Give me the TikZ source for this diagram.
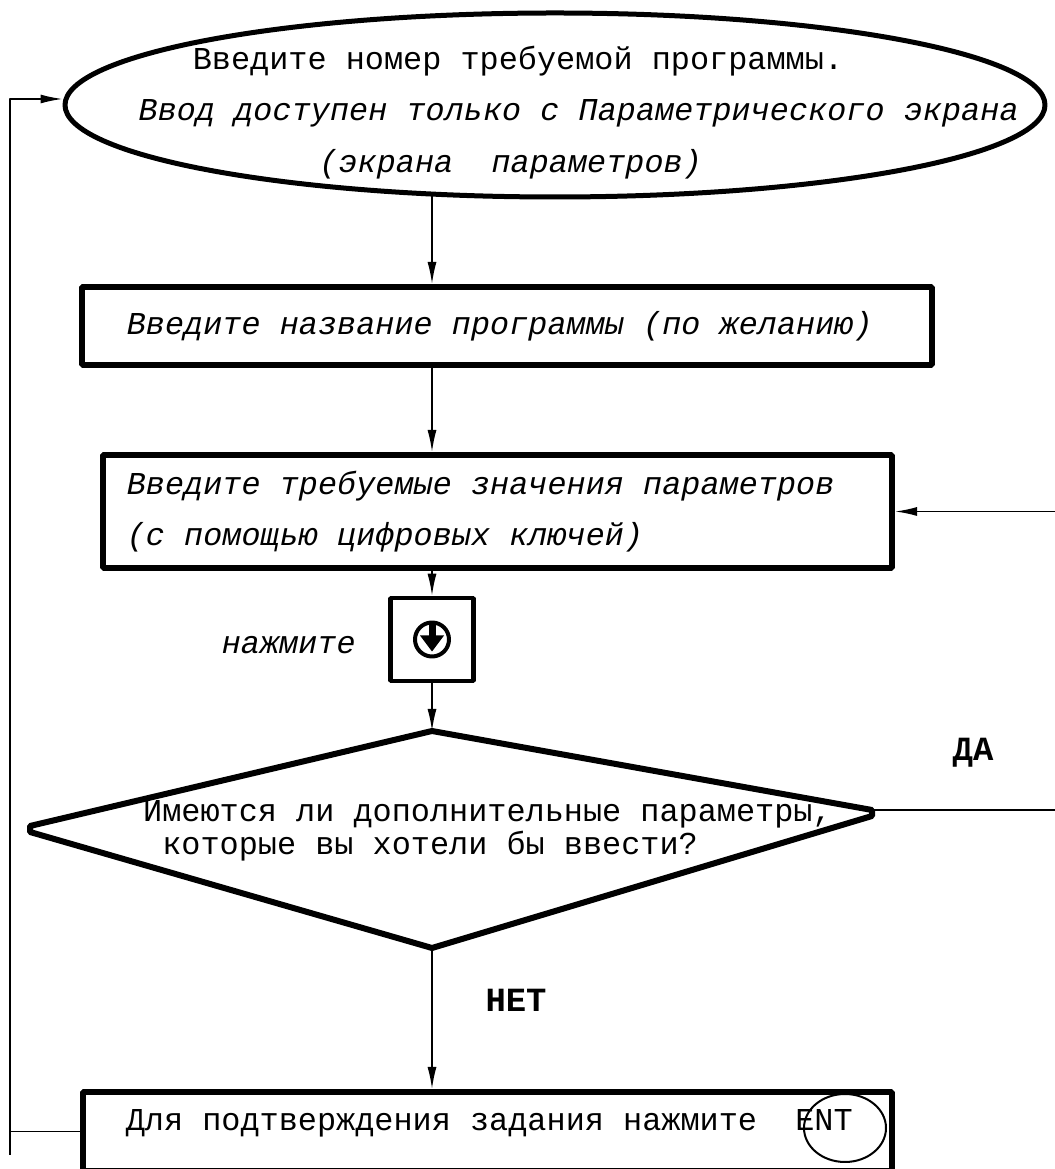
\documentclass[tikz,border=0pt]{standalone}
\usepackage{fontspec}
\setmonofont{Liberation Mono}
\newfontfamily\courit[FakeSlant=0.2]{Liberation Mono}
\frenchspacing
\usetikzlibrary{shapes.geometric,arrows.meta}
\tikzset{
  txt/.style={font=\ttfamily\fontsize{32}{38}\selectfont,inner sep=0pt},
  itxt/.style={font=\courit\fontsize{32}{38}\selectfont,inner sep=0pt},
  bold/.style={font=\ttfamily\bfseries\fontsize{34}{40}\selectfont,inner sep=0pt},
  box/.style={draw,line width=6bp,itxt,align=flush left,execute at begin node={\spaceskip=0pt\xspaceskip=0pt\relax}},
}
\begin{document}
\begin{tikzpicture}[>={Latex[length=22bp,width=9bp]},line join=bevel,line width=1.6bp,]
\useasboundingbox (0bp,0bp) rectangle (1055bp,1169bp);
%%
\node (node_0) at (555bp,1064bp) [ellipse,draw,line width=5bp,minimum width=980bp,minimum height=184bp,inner sep=0pt] {};
  \node (node_0a) at (518bp,1099bp) [txt,anchor=base] {Введите номер требуемой программы.};
  \node (node_0b) at (577bp,1048bp) [itxt,anchor=base] {Ввод доступен только с Параметрического экрана};
  \node (node_0c) at (509bp,996bp) [itxt,anchor=base] {(экрана~~параметров)};
\node (node_1) at (507bp,843bp) [box,minimum width=850bp,minimum height=78bp,text width=764bp] {Введите название программы (по желанию)};
\node (node_2) at (497.5bp,657.5bp) [box,minimum width=789bp,minimum height=113bp,text width=745bp,font=\courit\fontsize{32}{51}\selectfont] {Введите требуемые значения параметров\\(с помощью цифровых ключей)};
\node (node_3) at (432bp,529.5bp) [draw,line width=4.5bp,minimum width=83bp,minimum height=83bp,inner sep=0pt] {};
  \draw [line width=4bp] (node_3.center) circle (17bp);
  \draw [line width=7bp] ([yshift=15bp]node_3.center) -- ([yshift=0bp]node_3.center);
  \fill ([shift={(-12bp,4bp)}]node_3.center) -- ([shift={(12bp,4bp)}]node_3.center) -- ([shift={(0bp,-12bp)}]node_3.center) -- cycle;
\node (node_4) at (287bp,524bp) [itxt] {нажмите};
%
\coordinate (d_top) at (432bp,438bp);
\coordinate (d_rightu) at (872bp,359bp);
\coordinate (d_rightl) at (872bp,353bp);
\coordinate (d_bot) at (432bp,221bp);
\coordinate (d_leftl) at (30bp,337bp);
\coordinate (d_leftu) at (30bp,343bp);
\draw [line width=6bp] (d_top) -- (d_rightu) -- (d_rightl) -- (d_bot) -- (d_leftl) -- (d_leftu) -- cycle;
\node (node_5) at (487.5bp,338bp) [txt,align=left,font=\ttfamily\fontsize{32}{33}\selectfont] {Имеются ли дополнительные параметры,\\~которые вы хотели бы ввести?};
\node (node_10) at (973bp,416bp) [bold] {ДА};
\node (node_11) at (516bp,169bp) [bold] {НЕТ};
%
\node (node_6) at (487.5bp,37.5bp) [box,minimum width=809bp,minimum height=79bp] {};
  \node (node_7) at (125bp,39bp) [txt,anchor=base west] {Для подтверждения задания нажмите~~ENT};
  \node (node_8) at (845bp,41bp) [ellipse,draw,line width=2bp,minimum width=82bp,minimum height=68bp,inner sep=0pt] {};
%
\coordinate (node_9) at (1058bp,359bp);
\coordinate (node_12) at (10bp,14bp);
  \draw [black,->] (node_0.215.9 -| node_3) -- (node_1.north -| node_3);
  \draw [black,->] (node_1.south -| node_3) -- (node_2.north -| node_3);
  \draw [black,->] (node_2.south -| node_3) -- (node_3.north);
  \draw [black,->] (node_3.south) -- (d_top);
  \draw [black,->] (d_bot) -- (d_bot |- node_6.north);
  \draw [black,->] (d_rightu) -- (node_9) |- (node_2.east);
  \draw [black] (node_6.west) -- (node_6.west -| node_12);
  \draw [black,->] (node_12) |- ([yshift=6bp]node_0.west);
%
\end{tikzpicture}
\end{document}
